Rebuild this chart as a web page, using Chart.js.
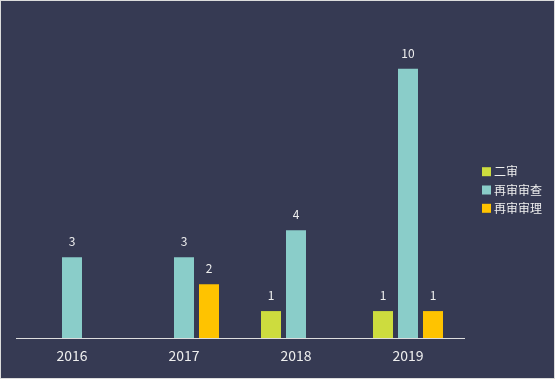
<!DOCTYPE html>
<html>
<head>
<meta charset="utf-8">
<script src="https://cdn.jsdelivr.net/npm/chart.js@4/dist/chart.umd.min.js"></script>
<style>
  html, body { margin: 0; padding: 0; background: #ffffff; }
  #wrap { width: 553px; height: 377px; border: 1px solid #dcdcdc; background: #363a53; }
  canvas { display: block; }
</style>
</head>
<body>
<div id="wrap"><canvas id="c" width="553" height="377"></canvas></div>
<script>
const categories = ['2016', '2017', '2018', '2019'];
const seriesNames = ['二审', '再审审查', '再审审理'];
const erShen = [0, 0, 1, 1];
const zaiShenShenCha = [3, 3, 4, 10];
const zaiShenShenLi = [0, 2, 0, 1];
const colors = ['#cddc3e', '#8acdc9', '#ffc300'];

const FONT = '"Noto Sans CJK SC", "Noto Sans", sans-serif';
const TEXT = '#eeeeee';

const valueLabels = {
  id: 'valueLabels',
  afterDatasetsDraw(chart) {
    const ctx = chart.ctx;
    ctx.save();
    ctx.font = '12px ' + FONT;
    ctx.fillStyle = TEXT;
    ctx.textAlign = 'center';
    ctx.textBaseline = 'alphabetic';
    chart.data.datasets.forEach((ds, di) => {
      const meta = chart.getDatasetMeta(di);
      meta.data.forEach((bar, i) => {
        const v = ds.data[i];
        if (!v) return;
        ctx.fillText(String(v), bar.x, bar.y - 11);
      });
    });
    ctx.restore();
  }
};

const sideLegend = {
  id: 'sideLegend',
  afterDraw(chart) {
    const ctx = chart.ctx;
    const area = chart.chartArea;
    const n = chart.data.datasets.length;
    const step = 18.3;
    const midY = chart.height / 2 + 0.5;
    ctx.save();
    ctx.font = '12px ' + FONT;
    ctx.textBaseline = 'middle';
    ctx.textAlign = 'left';
    chart.data.datasets.forEach((ds, i) => {
      const cy = midY + (i - (n - 1) / 2) * step;
      const bx = area.right + 18;
      ctx.fillStyle = ds.backgroundColor;
      ctx.fillRect(bx, cy - 4.5, 9, 9);
      ctx.fillStyle = TEXT;
      ctx.fillText(ds.label, bx + 12, cy);
    });
    ctx.restore();
  }
};

new Chart(document.getElementById('c'), {
  type: 'bar',
  data: {
    labels: categories,
    datasets: [
      { label: seriesNames[0], data: erShen, backgroundColor: colors[0] },
      { label: seriesNames[1], data: zaiShenShenCha, backgroundColor: colors[1] },
      { label: seriesNames[2], data: zaiShenShenLi, backgroundColor: colors[2] }
    ]
  },
  options: {
    responsive: false,
    animation: false,
    events: [],
    layout: { padding: { left: 15, right: 90, top: 14, bottom: 0 } },
    datasets: {
      bar: { categoryPercentage: 0.6696, barPercentage: 0.8, borderWidth: 0 }
    },
    scales: {
      x: {
        grid: { display: false, drawTicks: false },
        border: { display: true, color: '#dddddd', width: 1 },
        ticks: { color: TEXT, font: { size: 14, family: FONT }, padding: 9 },
        afterFit(s) { s.height = 40; }
      },
      y: {
        display: false,
        min: 0,
        max: 12
      }
    },
    plugins: {
      legend: { display: false },
      tooltip: { enabled: false }
    }
  },
  plugins: [valueLabels, sideLegend]
});
</script>
</body>
</html>
